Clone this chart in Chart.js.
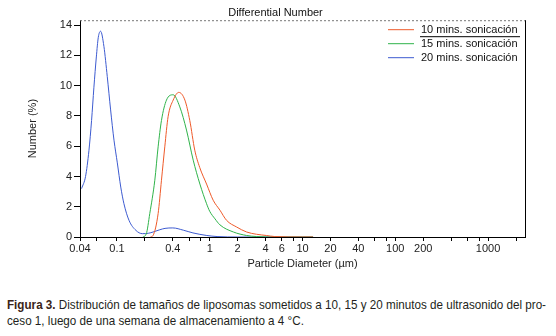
<!DOCTYPE html>
<html>
<head>
<meta charset="utf-8">
<script src="https://cdn.jsdelivr.net/npm/chart.js@4.4.1/dist/chart.umd.min.js"></script>
<style>
    body { margin: 0; background: #fff; }
    #wrap { position: relative; width: 556px; height: 336px; }
    #caption {
        position: absolute; left: 7px; top: 297px;
        font-family: "Liberation Sans", Arial, sans-serif;
        font-size: 13px; line-height: 16px; color: #231f20;
    }
    #caption span { display: inline-block; white-space: nowrap; transform-origin: 0 0; }
    #caption b { color: #3a2418; }
</style>
</head>
<body>
<div id="wrap">
    <canvas id="sizeChart" width="556" height="275"></canvas>
    <div id="caption">
        <span id="cap1"><b>Figura 3.</b> Distribución de tamaños de liposomas sometidos a 10, 15 y 20 minutos de ultrasonido del pro-</span><br>
        <span id="cap2">ceso 1, luego de una semana de almacenamiento a 4 °C.</span>
    </div>
</div>
<script>
// particle diameter (um) and number (%)
const d10 = [0.23, 0.245, 0.278, 0.302, 0.328, 0.356, 0.404, 0.464, 0.54, 0.61, 0.69, 0.78, 0.925, 1.09, 1.29, 1.52, 1.95, 2.5, 3.2, 4.1, 5, 10, 13];
const v10 = [0, 0.1, 1.55, 3.75, 5.96, 7.95, 9.05, 9.56, 9.05, 7.7, 5.74, 4.6, 3.5, 2.43, 1.77, 1.1, 0.66, 0.33, 0.18, 0.1, 0.03, 0, 0];

const d15 = [0.19, 0.207, 0.226, 0.256, 0.278, 0.302, 0.342, 0.404, 0.476, 0.562, 0.664, 0.784, 0.925, 1.0, 1.14, 1.29, 1.8, 2.5, 3.2, 5, 10, 13];
const v15 = [0, 0.2, 1.55, 3.75, 5.96, 7.7, 9.05, 9.4, 8.6, 7.07, 5.08, 3.5, 2.2, 1.7, 1.2, 0.8, 0.33, 0.1, 0.03, 0, 0, 0];

const d20 = [0.0416, 0.0459, 0.0499, 0.0533, 0.0565, 0.060, 0.063, 0.0667, 0.0724, 0.0787, 0.0855, 0.093, 0.101, 0.11, 0.119, 0.135, 0.16, 0.188, 0.22, 0.245, 0.29, 0.33, 0.40, 0.52, 0.66, 0.93, 1.2, 2, 5, 10, 13];
const v20 = [3.2, 4.0, 5.7, 7.7, 9.9, 11.9, 13.2, 13.6, 12.6, 10.6, 8.4, 6.4, 4.9, 3.3, 2.2, 1.1, 0.44, 0.22, 0.25, 0.33, 0.48, 0.57, 0.6, 0.45, 0.27, 0.1, 0.03, 0, 0, 0, 0];

const seriesNames = ['10 mins. sonicación', '15 mins. sonicación', '20 mins. sonicación'];
const seriesColors = ['#ee5a2a', '#2fb34a', '#3d5bd0'];

const xTicks = [0.04, 0.06, 0.1, 0.2, 0.4, 0.6, 0.8, 1, 2, 4, 6, 8, 10, 20, 40, 60, 80, 100, 200, 400, 600, 800, 1000, 2000];
const xLabels = [0.04, 0.1, 0.4, 1, 2, 4, 6, 10, 20, 40, 100, 200, 1000];
const yTicks = [0, 2, 4, 6, 8, 10, 12, 14];

const pts = (xs, ys) => xs.map((x, i) => ({ x: x, y: ys[i] }));

// frame (dashed top, solid right) + legend inside the plot
const framePlugin = {
    id: 'frame',
    afterDatasetsDraw(chart) {
        const { ctx, chartArea: a } = chart;
        ctx.save();
        ctx.lineWidth = 1;
        ctx.strokeStyle = '#777';
        ctx.setLineDash([2, 2]);
        ctx.beginPath();
        ctx.moveTo(a.left, a.top + 0.5);
        ctx.lineTo(a.right, a.top + 0.5);
        ctx.stroke();
        ctx.setLineDash([]);
        ctx.strokeStyle = '#000';
        ctx.beginPath();
        ctx.moveTo(a.right + 0.5, a.top);
        ctx.lineTo(a.right + 0.5, a.bottom);
        ctx.stroke();

        // legend
        ctx.font = '11px "Liberation Sans", Arial, sans-serif';
        ctx.textBaseline = 'middle';
        ctx.textAlign = 'left';
        const x0 = a.right - 137, x1 = a.right - 111, tx = a.right - 104;
        seriesNames.forEach((name, i) => {
            const y = a.top + 9.5 + i * 14;
            ctx.strokeStyle = seriesColors[i];
            ctx.beginPath();
            ctx.moveTo(x0, y);
            ctx.lineTo(x1, y);
            ctx.stroke();
            ctx.fillStyle = '#111';
            ctx.fillText(name, tx, y);
        });
        ctx.strokeStyle = '#000';
        ctx.beginPath();
        ctx.moveTo(tx - 1, a.top + 16.5);
        ctx.lineTo(a.right - 5, a.top + 16.5);
        ctx.stroke();
        ctx.restore();
    }
};

const tickFont = { family: '"Liberation Sans", Arial, sans-serif', size: 11 };

new Chart(document.getElementById('sizeChart').getContext('2d'), {
    type: 'line',
    data: {
        datasets: [
            { label: seriesNames[0], data: pts(d10, v10), borderColor: seriesColors[0] },
            { label: seriesNames[1], data: pts(d15, v15), borderColor: seriesColors[1] },
            { label: seriesNames[2], data: pts(d20, v20), borderColor: seriesColors[2] }
        ]
    },
    options: {
        responsive: false,
        animation: false,
        parsing: false,
        elements: {
            line: { borderWidth: 1, cubicInterpolationMode: 'monotone' },
            point: { radius: 0 }
        },
        layout: { padding: { left: 26, right: 31, top: 0, bottom: 0 } },
        scales: {
            x: {
                type: 'logarithmic',
                min: 0.04,
                max: 2500,
                afterBuildTicks: (scale) => { scale.ticks = xTicks.map(v => ({ value: v })); },
                afterFit: (scale) => { scale.height = 38; },
                ticks: {
                    autoSkip: false,
                    maxRotation: 0,
                    color: '#222',
                    font: tickFont,
                    padding: 1,
                    callback: (v) => xLabels.includes(v) ? String(v) : ''
                },
                grid: { drawOnChartArea: false, tickLength: 4, tickColor: '#000' },
                border: { color: '#000', width: 1 },
                title: {
                    display: true,
                    text: 'Particle Diameter (µm)',
                    color: '#222',
                    font: tickFont,
                    padding: { top: 0, bottom: 4 }
                }
            },
            y: {
                min: 0,
                max: 14.33,
                afterBuildTicks: (scale) => { scale.ticks = yTicks.map(v => ({ value: v })); },
                afterFit: (scale) => { scale.width = 54; },
                ticks: { color: '#222', font: tickFont, padding: 2 },
                grid: { drawOnChartArea: false, tickLength: 6, tickColor: '#000' },
                border: { color: '#000', width: 1 },
                title: {
                    display: true,
                    text: 'Number (%)',
                    color: '#222',
                    font: tickFont,
                    padding: 0
                }
            }
        },
        plugins: {
            legend: { display: false },
            tooltip: { enabled: false },
            title: {
                display: true,
                text: 'Differential Number',
                color: '#111',
                font: { family: '"Liberation Sans", Arial, sans-serif', size: 11, weight: 'normal' },
                padding: { top: 6, bottom: 1 }
            }
        }
    },
    plugins: [framePlugin]
});

// squeeze the caption to the printed (condensed) width
const cap1 = document.getElementById('cap1');
const cap2 = document.getElementById('cap2');
const k = 539 / cap1.getBoundingClientRect().width;
cap1.style.transform = 'scaleX(' + k + ')';
cap2.style.transform = 'scaleX(' + k + ')';
</script>
</body>
</html>
